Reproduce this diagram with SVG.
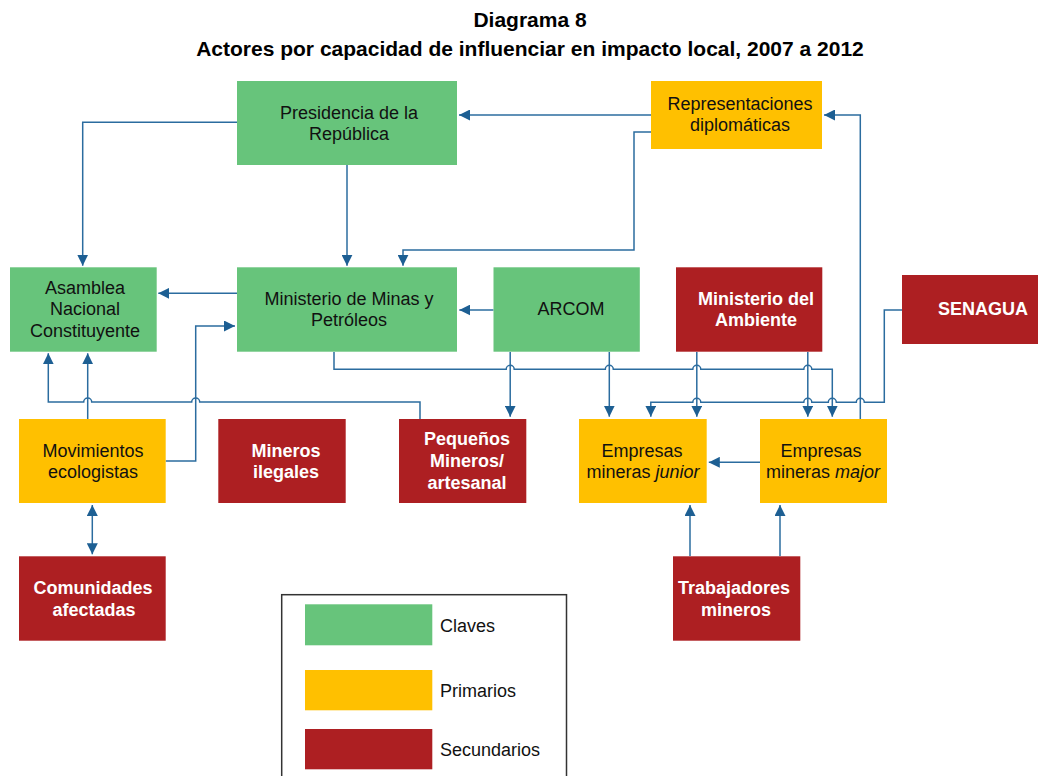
<svg xmlns="http://www.w3.org/2000/svg" width="1038" height="776" viewBox="0 0 1038 776">
<defs>
<style>
.t{font-family:"Liberation Sans",Arial,sans-serif;font-size:18px;fill:#111;text-anchor:middle}
.w{font-family:"Liberation Sans",Arial,sans-serif;font-size:18px;font-weight:bold;fill:#fff;text-anchor:middle}
.title{font-family:"Liberation Sans",Arial,sans-serif;font-size:21px;font-weight:bold;fill:#000;text-anchor:middle}
.lg{font-family:"Liberation Sans",Arial,sans-serif;font-size:18px;fill:#111}
.g{fill:#67C47B}
.y{fill:#FFC000}
.r{fill:#AD1F22}
.c{fill:none;stroke:#2B6C9F;stroke-width:1.5;stroke-linejoin:miter}
.a{marker-end:url(#ah)}
.b{marker-end:url(#ah);marker-start:url(#ah)}
</style>
<marker id="ah" markerUnits="userSpaceOnUse" markerWidth="11" markerHeight="11" viewBox="0 0 10 10" refX="10" refY="5" orient="auto-start-reverse">
<path d="M0,0 L10,5 L0,10 z" fill="#1D5F93"/>
</marker>
</defs>
<rect width="1038" height="776" fill="#fff"/>
<text class="title" x="530" y="27">Diagrama 8</text>
<text class="title" x="530" y="56">Actores por capacidad de influenciar en impacto local, 2007 a 2012</text>

<g id="connectors">
<path class="c a" d="M651,115 H459"/>
<path class="c a" d="M651,132 H634 V250 H403 V265.7"/>
<path class="c a" d="M237,122.3 H82.7 V265.7"/>
<path class="c a" d="M347,165 V265.7"/>
<path class="c a" d="M237,293.3 H158.3"/>
<path class="c a" d="M493.5,310 H459.3"/>
<path class="c a" d="M165.7,461 H195.7 V326 H235"/>
<path class="c a" d="M87.7,419 V353.3"/>
<path class="c a" d="M420,419 V402 H199.7 a4,4 0 0 0 -8,0 H91.7 a4,4 0 0 0 -8,0 H48.3 V353.3"/>
<path class="c a" d="M334,352 V369.3 H506.2 a4,4 0 0 1 8,0 H605.3 a4,4 0 0 1 8,0 H692.8 a4,4 0 0 1 8,0 H803.8 a4,4 0 0 1 8,0 H832.3 V416.7"/>
<path class="c a" d="M510.2,352 V416.7"/>
<path class="c a" d="M609.3,352 V416.7"/>
<path class="c a" d="M696.8,352 V416.7"/>
<path class="c a" d="M807.8,352 V416.7"/>
<path class="c a" d="M902,310 H884.3 V402.3 H864.3 a4,4 0 0 0 -8,0 H836.3 a4,4 0 0 0 -8,0 H811.8 a4,4 0 0 0 -8,0 H700.8 a4,4 0 0 0 -8,0 H650.8 V416.7"/>
<path class="c a" d="M860.3,419 V115 H824"/>
<path class="c a" d="M760,462.3 H708.8"/>
<path class="c a" d="M690,556 V505"/>
<path class="c a" d="M780,556 V505"/>
<path class="c b" d="M92.3,505 V554.3"/>
</g>

<g id="presidencia">
<rect class="g" x="237" y="81" width="220" height="84"/>
<text class="t" x="349" y="118.5">Presidencia de la</text>
<text class="t" x="349" y="139.5">República</text>
</g>
<g id="representaciones">
<rect class="y" x="651" y="81" width="171" height="68"/>
<text class="t" x="740" y="110">Representaciones</text>
<text class="t" x="740" y="131">diplomáticas</text>
</g>
<g id="asamblea">
<rect class="g" x="10" y="267.3" width="146.7" height="84.4"/>
<text class="t" x="85" y="293.5">Asamblea</text>
<text class="t" x="85" y="315">Nacional</text>
<text class="t" x="85" y="336.5">Constituyente</text>
</g>
<g id="ministerio-minas">
<rect class="g" x="237" y="267.3" width="220" height="84.4"/>
<text class="t" x="349" y="304.5">Ministerio de Minas y</text>
<text class="t" x="349" y="325.5">Petróleos</text>
</g>
<g id="arcom">
<rect class="g" x="493.5" y="267.3" width="146.3" height="84.4"/>
<text class="t" x="571" y="315">ARCOM</text>
</g>
<g id="ministerio-ambiente">
<rect class="r" x="676" y="267.3" width="146.3" height="84.4"/>
<text class="w" x="756" y="304.5">Ministerio del</text>
<text class="w" x="756" y="326">Ambiente</text>
</g>
<g id="senagua">
<rect class="r" x="902" y="275" width="136" height="69"/>
<text class="w" x="983" y="315">SENAGUA</text>
</g>
<g id="movimientos">
<rect class="y" x="19" y="419" width="146.7" height="84"/>
<text class="t" x="93" y="456.5">Movimientos</text>
<text class="t" x="93" y="478">ecologistas</text>
</g>
<g id="mineros-ilegales">
<rect class="r" x="218.3" y="419" width="127.4" height="84"/>
<text class="w" x="286" y="456.5">Mineros</text>
<text class="w" x="286" y="478">ilegales</text>
</g>
<g id="pequenos-mineros">
<rect class="r" x="399" y="419" width="127.3" height="84"/>
<text class="w" x="467" y="445">Pequeños</text>
<text class="w" x="467" y="467">Mineros/</text>
<text class="w" x="467" y="489">artesanal</text>
</g>
<g id="empresas-junior">
<rect class="y" x="579" y="419" width="127.7" height="84"/>
<text class="t" x="642" y="456.5">Empresas</text>
<text class="t" x="643" y="478">mineras <tspan font-style="italic">junior</tspan></text>
</g>
<g id="empresas-major">
<rect class="y" x="760" y="419" width="127" height="84"/>
<text class="t" x="821" y="456.5">Empresas</text>
<text class="t" x="823" y="478">mineras <tspan font-style="italic">major</tspan></text>
</g>
<g id="comunidades">
<rect class="r" x="19" y="556.3" width="146.7" height="84.4"/>
<text class="w" x="93" y="594">Comunidades</text>
<text class="w" x="94" y="615.5">afectadas</text>
</g>
<g id="trabajadores">
<rect class="r" x="673" y="556.3" width="127.3" height="84.4"/>
<text class="w" x="734" y="594">Trabajadores</text>
<text class="w" x="736" y="615.5">mineros</text>
</g>

<g id="legend">
<rect x="281.7" y="594.7" width="284.8" height="200" fill="#fff" stroke="#333" stroke-width="1.5"/>
<rect class="g" x="305" y="604.3" width="127.3" height="41"/>
<text class="lg" x="440" y="632">Claves</text>
<rect class="y" x="305" y="670" width="127.3" height="40.3"/>
<text class="lg" x="440" y="697">Primarios</text>
<rect class="r" x="305" y="729" width="127.3" height="40.3"/>
<text class="lg" x="440" y="756">Secundarios</text>
</g>
</svg>
